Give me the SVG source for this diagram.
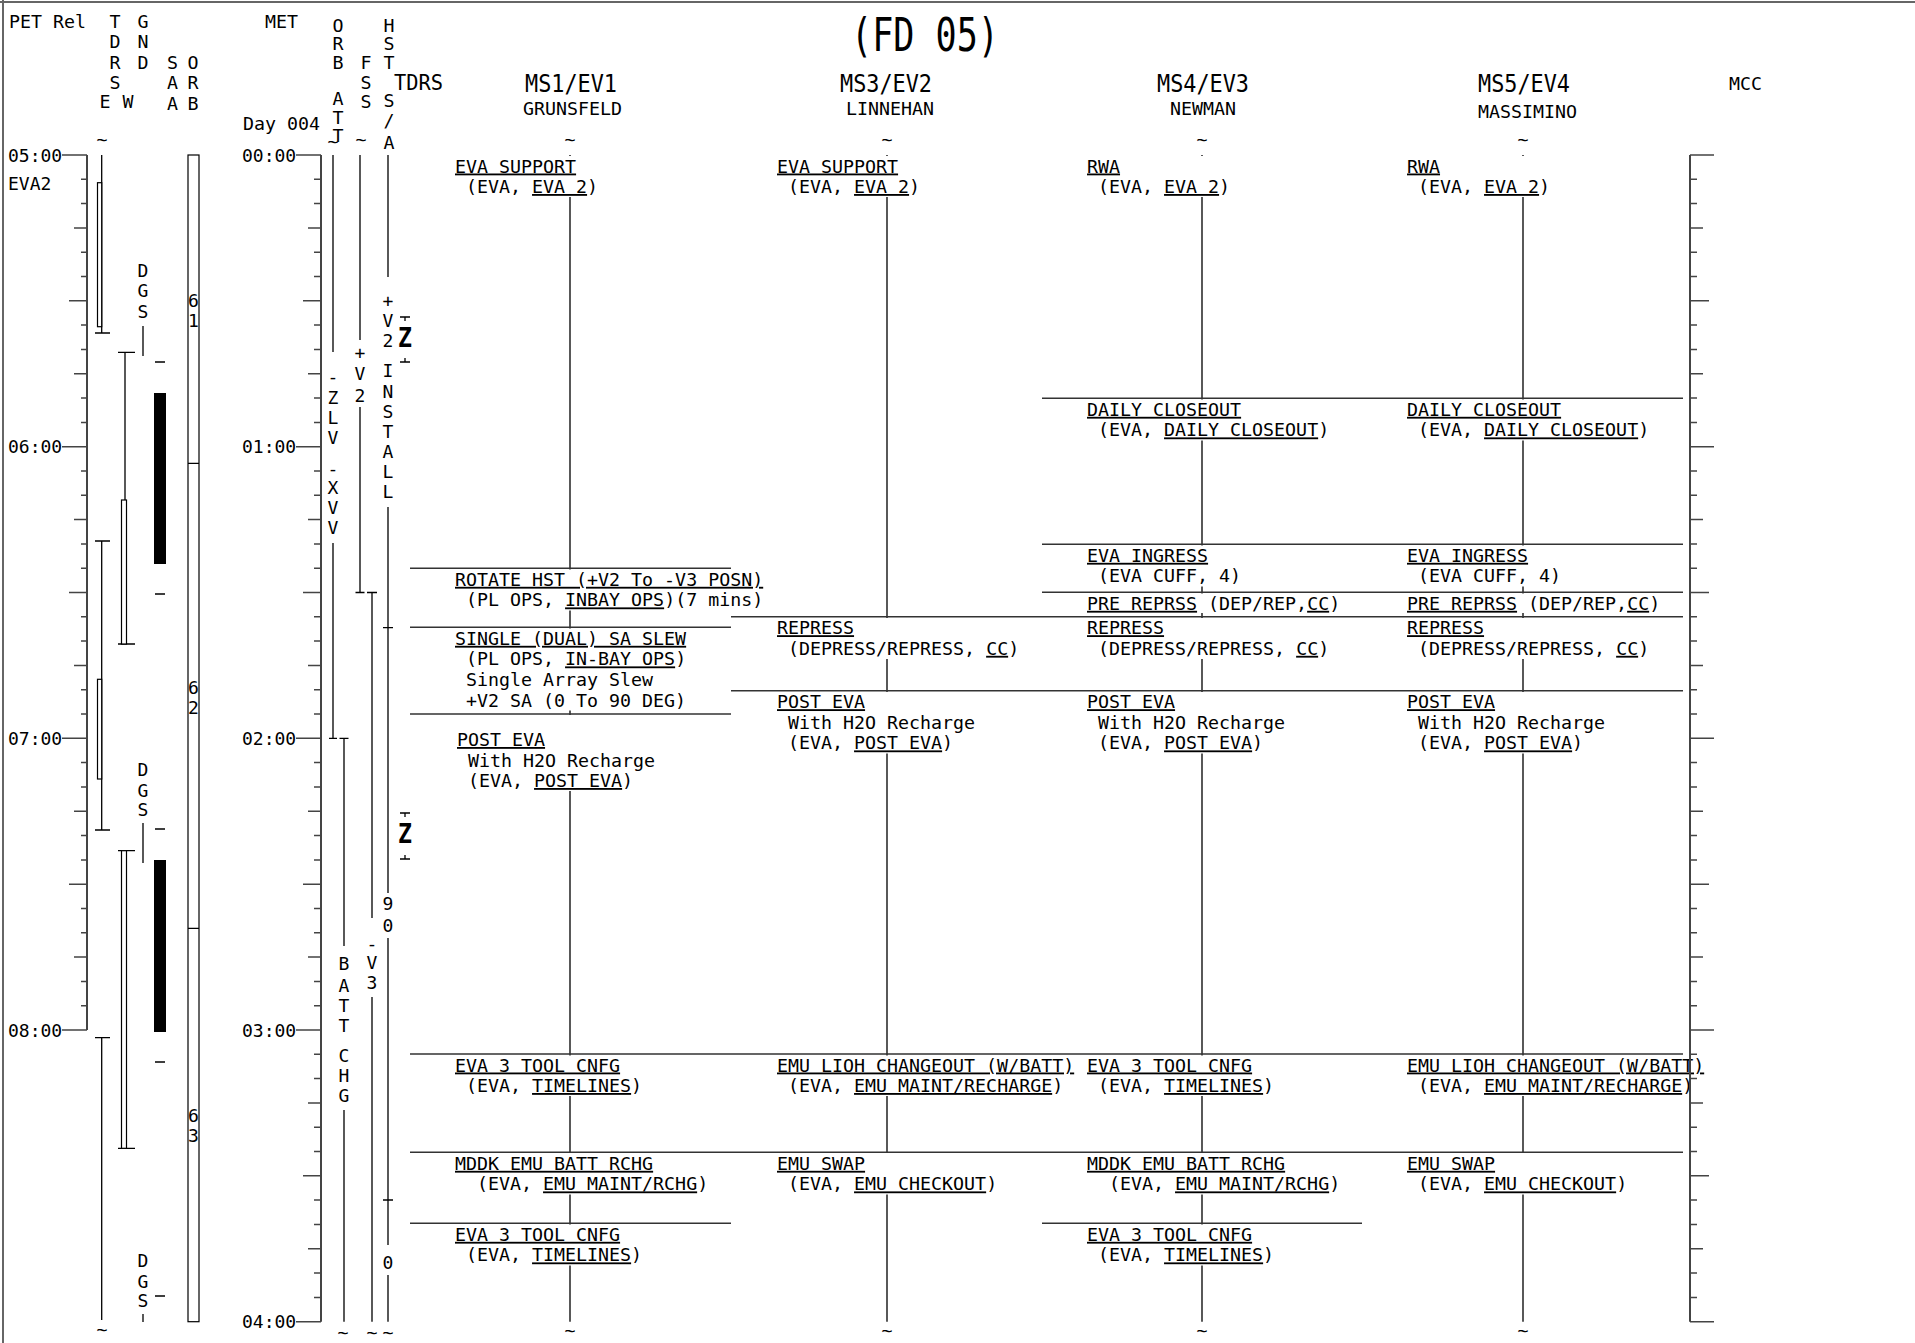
<svg xmlns="http://www.w3.org/2000/svg" width="1915" height="1343" viewBox="0 0 1915 1343">
<style>
.t{font-family:"DejaVu Sans Mono","Liberation Mono",monospace;font-size:18.3px;fill:#000}
.s{font-size:18px}
.c{text-anchor:middle}
.u{text-decoration:underline}
.ttl{font-size:46px}
.hd{font-size:24px}
.td{font-size:22px}
.ax{stroke:#444;stroke-width:2;fill:none}
.tk{stroke:#444;stroke-width:1.5;fill:none}
.ln{stroke:#000;stroke-width:1.3;fill:none}
.sep{stroke:#333;stroke-width:1.5;fill:none}
.bg{fill:#fff}
.box{fill:#fff;stroke:#000;stroke-width:1.2}
.zb{font-family:"DejaVu Sans Mono","Liberation Mono",monospace;font-weight:bold;font-size:27px}
</style>
<rect width="1915" height="1343" fill="#fff"/>
<g id="border"><path d="M3 0V1343M0 2H1915" stroke="#666" stroke-width="2" fill="none"/></g>

<g id="header">
<text class="t ttl" x="851" y="51" textLength="148" lengthAdjust="spacingAndGlyphs">(FD 05)</text>
<text class="t" x="9" y="27.5">PET Rel</text>
<text class="t" x="265" y="27.5">MET</text>
<text class="t" x="243" y="129.6">Day 004</text>
<text class="t c"><tspan x="115" y="27.5">T</tspan><tspan x="115" y="48">D</tspan><tspan x="115" y="68.5">R</tspan><tspan x="115" y="89">S</tspan><tspan x="105" y="108.3">E</tspan><tspan x="128" y="108.3">W</tspan></text>
<text class="t c"><tspan x="143" y="27.5">G</tspan><tspan x="143" y="48">N</tspan><tspan x="143" y="68.5">D</tspan></text>
<text class="t c"><tspan x="172.5" y="68.5">S</tspan><tspan x="172.5" y="89">A</tspan><tspan x="172.5" y="109.5">A</tspan></text>
<text class="t c"><tspan x="193" y="68.5">O</tspan><tspan x="193" y="89">R</tspan><tspan x="193" y="109.5">B</tspan></text>
<text class="t c"><tspan x="338" y="31.5">O</tspan><tspan x="338" y="50">R</tspan><tspan x="338" y="68.5">B</tspan><tspan x="338" y="105">A</tspan><tspan x="338" y="123.5">T</tspan><tspan x="338" y="141.5">T</tspan></text>
<text class="t c"><tspan x="366" y="68.5">F</tspan><tspan x="366" y="89">S</tspan><tspan x="366" y="108.3">S</tspan></text>
<text class="t c"><tspan x="389" y="31.5">H</tspan><tspan x="389" y="50">S</tspan><tspan x="389" y="68.5">T</tspan><tspan x="389" y="107">S</tspan><tspan x="389" y="127">/</tspan><tspan x="389" y="149">A</tspan></text>
<text class="t td" x="394" y="90" textLength="49" lengthAdjust="spacingAndGlyphs">TDRS</text>
<text class="t hd" x="525" y="92" textLength="92" lengthAdjust="spacingAndGlyphs">MS1/EV1</text>
<text class="t" x="523" y="115.3">GRUNSFELD</text>
<text class="t hd" x="840" y="92" textLength="92" lengthAdjust="spacingAndGlyphs">MS3/EV2</text>
<text class="t" x="846" y="115.3">LINNEHAN</text>
<text class="t hd" x="1157" y="92" textLength="92" lengthAdjust="spacingAndGlyphs">MS4/EV3</text>
<text class="t" x="1170" y="115.3">NEWMAN</text>
<text class="t hd" x="1478" y="92" textLength="92" lengthAdjust="spacingAndGlyphs">MS5/EV4</text>
<text class="t" x="1478" y="117.6">MASSIMINO</text>
<text class="t" x="1729" y="89.6">MCC</text>
<text class="t c"><tspan x="102" y="146">~</tspan><tspan x="333" y="148">~</tspan><tspan x="361" y="146">~</tspan><tspan x="570" y="146">~</tspan><tspan x="887" y="146">~</tspan><tspan x="1202" y="146">~</tspan><tspan x="1523" y="146">~</tspan></text>
<text class="t c"><tspan x="102" y="1336">~</tspan><tspan x="343" y="1339">~</tspan><tspan x="372" y="1339">~</tspan><tspan x="388" y="1339">~</tspan><tspan x="570" y="1337">~</tspan><tspan x="887" y="1337">~</tspan><tspan x="1202" y="1337">~</tspan><tspan x="1523" y="1337">~</tspan></text>
</g>

<g id="pet-axis">
<path class="ax" d="M87 155V1030"/>
<path class="tk" d="M62 155H87M81 179.3H87M81 203.6H87M74 227.9H87M81 252.2H87M81 276.5H87M69 300.8H87M81 325.1H87M81 349.4H87M74 373.8H87M81 398.1H87M81 422.4H87M62 446.7H87M81 471H87M81 495.3H87M74 519.6H87M81 543.9H87M81 568.2H87M69 592.5H87M81 616.8H87M81 641.1H87M74 665.4H87M81 689.7H87M81 714H87M62 738.3H87M81 762.6H87M81 786.9H87M74 811.3H87M81 835.6H87M81 859.9H87M69 884.2H87M81 908.5H87M81 932.8H87M74 957.1H87M81 981.4H87M81 1005.7H87M62 1030H87"/>
<text class="t s" x="8" y="161.5">05:00</text>
<text class="t s" x="8" y="453.2">06:00</text>
<text class="t s" x="8" y="744.8">07:00</text>
<text class="t s" x="8" y="1036.5">08:00</text>
<text class="t s" x="8" y="190">EVA2</text>
</g>

<g id="met-axis">
<path class="ax" d="M321 155V1321.7"/>
<path class="tk" d="M296 155H321M314 179.3H321M314 203.6H321M308 227.9H321M314 252.2H321M314 276.5H321M303 300.8H321M314 325.1H321M314 349.4H321M308 373.8H321M314 398.1H321M314 422.4H321M296 446.7H321M314 471H321M314 495.3H321M308 519.6H321M314 543.9H321M314 568.2H321M303 592.5H321M314 616.8H321M314 641.1H321M308 665.4H321M314 689.7H321M314 714H321M296 738.3H321M314 762.6H321M314 786.9H321M308 811.3H321M314 835.6H321M314 859.9H321M303 884.2H321M314 908.5H321M314 932.8H321M308 957.1H321M314 981.4H321M314 1005.7H321M296 1030H321M314 1054.3H321M314 1078.6H321M308 1102.9H321M314 1127.2H321M314 1151.5H321M303 1175.8H321M314 1200.1H321M314 1224.4H321M308 1248.8H321M314 1273.1H321M314 1297.4H321M296 1321.7H321"/>
<text class="t s" x="242" y="161.5">00:00</text>
<text class="t s" x="242" y="453.2">01:00</text>
<text class="t s" x="242" y="744.8">02:00</text>
<text class="t s" x="242" y="1036.5">03:00</text>
<text class="t s" x="242" y="1328.2">04:00</text>
</g>

<g id="tdrs-e">
<path class="ln" d="M101.7 155V333M95 333H110M95 541H110M101.7 541V830M95 830H110M95 1037.7H110M101.7 1037.7V1320"/>
<rect class="box" x="97.5" y="182.7" width="4.2" height="144"/>
<rect class="box" x="97.5" y="679.3" width="4.2" height="99.7"/>
</g>
<g id="gnd-w">
<path class="ln" d="M118 352.3H135M125 352.3V500M118 644H135M118 850.7H135M118 1148.3H135"/>
<rect class="box" x="121.5" y="500" width="5" height="144"/>
<rect class="box" x="121.5" y="850.7" width="5" height="297.6"/>
</g>
<g id="dgs">
<text class="t c s"><tspan x="143" y="276.6">D</tspan><tspan x="143" y="297.3">G</tspan><tspan x="143" y="318.3">S</tspan></text>
<text class="t c s"><tspan x="143" y="775.6">D</tspan><tspan x="143" y="796.6">G</tspan><tspan x="143" y="815.6">S</tspan></text>
<text class="t c s"><tspan x="143" y="1266.6">D</tspan><tspan x="143" y="1287.6">G</tspan><tspan x="143" y="1306.6">S</tspan></text>
<path class="ln" d="M143 326V356M155 362H165M155 594H165M143 823V863M155 829H165M155 1062H165M155 1296H165M143 1314V1322"/>
<rect x="154" y="393" width="12" height="171" fill="#000"/>
<rect x="154" y="860" width="12" height="172" fill="#000"/>
</g>
<g id="saa-orb">
<rect class="box" x="188" y="155" width="11" height="1166.7"/>
<path class="ln" d="M188 463.3H199M188 928.3H199"/>
<text class="t c s"><tspan x="193.5" y="307">6</tspan><tspan x="193.5" y="327">1</tspan><tspan x="193.5" y="693.5">6</tspan><tspan x="193.5" y="713.5">2</tspan><tspan x="193.5" y="1122">6</tspan><tspan x="193.5" y="1142">3</tspan></text>
</g>
<g id="orb-att">
<path class="ln" d="M333 155V352M333 543V738.3M329 738.3H337M339.5 738.3H348.5M344 738.3V946M344 1110V1321.7"/>
<text class="t c s"><tspan x="333" y="382.6">-</tspan><tspan x="333" y="403.6">Z</tspan><tspan x="333" y="423.6">L</tspan><tspan x="333" y="443.6">V</tspan><tspan x="333" y="474.6">-</tspan><tspan x="333" y="493.6">X</tspan><tspan x="333" y="513.6">V</tspan><tspan x="333" y="533.6">V</tspan></text>
<text class="t c s"><tspan x="344" y="969.6">B</tspan><tspan x="344" y="992.3">A</tspan><tspan x="344" y="1012.3">T</tspan><tspan x="344" y="1031.6">T</tspan><tspan x="344" y="1061.6">C</tspan><tspan x="344" y="1081.6">H</tspan><tspan x="344" y="1101.6">G</tspan></text>
</g>
<g id="fss">
<path class="ln" d="M360 155V340M360 407V592.5M355.5 592.5H364.5M367 592.5H377M372 592.5V918M372 997V1321.7"/>
<text class="t c s"><tspan x="360" y="358.6">+</tspan><tspan x="360" y="379.6">V</tspan><tspan x="360" y="401.6">2</tspan><tspan x="372" y="949.6">-</tspan><tspan x="372" y="968.6">V</tspan><tspan x="372" y="988.6">3</tspan></text>
</g>
<g id="hst-sa">
<path class="ln" stroke-width="1.6" d="M388 155V277M388 507V893M383 627.7H393M388 938V1245M383 1200H393M388 1275V1321.7"/>
<text class="t c s"><tspan x="388" y="306.6">+</tspan><tspan x="388" y="326.6">V</tspan><tspan x="388" y="346.6">2</tspan><tspan x="388" y="376.6">I</tspan><tspan x="388" y="397.6">N</tspan><tspan x="388" y="417.6">S</tspan><tspan x="388" y="437.6">T</tspan><tspan x="388" y="457.6">A</tspan><tspan x="388" y="477.6">L</tspan><tspan x="388" y="497.6">L</tspan><tspan x="388" y="909.6">9</tspan><tspan x="388" y="931.6">0</tspan><tspan x="388" y="1268.6">0</tspan></text>
</g>
<g id="tdrs">
<path class="ln" d="M400 317H410M405 317V321M405 358V362M400 362H410M400 813H410M405 813V817M405 855V859M400 859H410"/>
<text class="zb" x="398" y="347" textLength="14" lengthAdjust="spacingAndGlyphs">Z</text>
<text class="zb" x="398" y="843" textLength="14" lengthAdjust="spacingAndGlyphs">Z</text>
</g>

<g id="connectors">
<path class="ln" d="M570 155V1321.7M887 155V1321.7M1202 155V1321.7M1523 155V1321.7"/>
<path class="sep" d="M410 568.3H731M410 627.3H731M410 714H731M1042 398.3H1683M1042 544.3H1683M1042 592.3H1683M731 616.7H1683M731 690.7H1683M410 1054H1683M410 1152.3H1683M410 1223.3H731M1042 1223.3H1362"/>
</g>

<g id="ms1-eva-support"><rect class="bg" x="565" y="156" width="10" height="41"/><text class="t u" x="455" y="172.5">EVA SUPPORT</text><text class="t" x="466" y="193">(EVA, <tspan class="u">EVA 2</tspan>)</text></g>
<g id="ms1-rotate-hst"><rect class="bg" x="565" y="569.5" width="10" height="41"/><text class="t u" x="455" y="585.8">ROTATE HST (+V2 To -V3 POSN)</text><text class="t" x="466" y="606.4">(PL OPS, <tspan class="u">INBAY OPS</tspan>)(7 mins)</text></g>
<g id="ms1-sa-slew"><rect class="bg" x="565" y="628.5" width="10" height="82"/><text class="t u" x="455" y="644.8">SINGLE (DUAL) SA SLEW</text><text class="t" x="466" y="665.4">(PL OPS, <tspan class="u">IN-BAY OPS</tspan>)</text><text class="t" x="466" y="686">Single Array Slew</text><text class="t" x="466" y="706.6">+V2 SA (0 To 90 DEG)</text></g>
<g id="ms1-post-eva"><rect class="bg" x="565" y="715" width="10" height="76"/><text class="t u" x="457" y="746">POST EVA</text><text class="t" x="468" y="766.5">With H2O Recharge</text><text class="t" x="468" y="787">(EVA, <tspan class="u">POST EVA</tspan>)</text></g>
<g id="ms1-eva3-tool"><rect class="bg" x="565" y="1055.5" width="10" height="40.5"/><text class="t u" x="455" y="1071.5">EVA 3 TOOL CNFG</text><text class="t" x="466" y="1092">(EVA, <tspan class="u">TIMELINES</tspan>)</text></g>
<g id="ms1-mddk"><rect class="bg" x="565" y="1153" width="10" height="41.5"/><text class="t u" x="455" y="1169.8">MDDK EMU BATT RCHG</text><text class="t" x="477" y="1190.4">(EVA, <tspan class="u">EMU MAINT/RCHG</tspan>)</text></g>
<g id="ms1-eva3-tool-2"><rect class="bg" x="565" y="1224.5" width="10" height="41"/><text class="t u" x="455" y="1240.8">EVA 3 TOOL CNFG</text><text class="t" x="466" y="1261.4">(EVA, <tspan class="u">TIMELINES</tspan>)</text></g>

<g id="ms3-eva-support"><rect class="bg" x="882" y="156" width="10" height="41"/><text class="t u" x="777" y="172.5">EVA SUPPORT</text><text class="t" x="788" y="193">(EVA, <tspan class="u">EVA 2</tspan>)</text></g>
<g id="ms3-repress"><rect class="bg" x="882" y="618" width="10" height="41"/><text class="t u" x="777" y="634.2">REPRESS</text><text class="t" x="788" y="654.8">(DEPRESS/REPRESS, <tspan class="u">CC</tspan>)</text></g>
<g id="ms3-post-eva"><rect class="bg" x="882" y="692" width="10" height="61.5"/><text class="t u" x="777" y="708.2">POST EVA</text><text class="t" x="788" y="728.8">With H2O Recharge</text><text class="t" x="788" y="749.4">(EVA, <tspan class="u">POST EVA</tspan>)</text></g>
<g id="ms3-emu-lioh"><rect class="bg" x="882" y="1055.5" width="10" height="40.5"/><text class="t u" x="777" y="1071.5">EMU LIOH CHANGEOUT (W/BATT)</text><text class="t" x="788" y="1092">(EVA, <tspan class="u">EMU MAINT/RECHARGE</tspan>)</text></g>
<g id="ms3-emu-swap"><rect class="bg" x="882" y="1153" width="10" height="41.5"/><text class="t u" x="777" y="1169.8">EMU SWAP</text><text class="t" x="788" y="1190.4">(EVA, <tspan class="u">EMU CHECKOUT</tspan>)</text></g>

<g id="ms4-rwa"><rect class="bg" x="1197" y="156" width="10" height="41"/><text class="t u" x="1087" y="172.5">RWA</text><text class="t" x="1098" y="193">(EVA, <tspan class="u">EVA 2</tspan>)</text></g>
<g id="ms4-daily-closeout"><rect class="bg" x="1197" y="399.5" width="10" height="41"/><text class="t u" x="1087" y="415.8">DAILY CLOSEOUT</text><text class="t" x="1098" y="436.4">(EVA, <tspan class="u">DAILY CLOSEOUT</tspan>)</text></g>
<g id="ms4-eva-ingress"><rect class="bg" x="1197" y="545.5" width="10" height="41"/><text class="t u" x="1087" y="561.8">EVA INGRESS</text><text class="t" x="1098" y="582.4">(EVA CUFF, 4)</text></g>
<g id="ms4-pre-reprss"><rect class="bg" x="1197" y="593.5" width="10" height="19.5"/><text class="t" x="1087" y="609.8"><tspan class="u">PRE REPRSS</tspan> (DEP/REP,<tspan class="u">CC</tspan>)</text></g>
<g id="ms4-repress"><rect class="bg" x="1197" y="618" width="10" height="41"/><text class="t u" x="1087" y="634.2">REPRESS</text><text class="t" x="1098" y="654.8">(DEPRESS/REPRESS, <tspan class="u">CC</tspan>)</text></g>
<g id="ms4-post-eva"><rect class="bg" x="1197" y="692" width="10" height="61.5"/><text class="t u" x="1087" y="708.2">POST EVA</text><text class="t" x="1098" y="728.8">With H2O Recharge</text><text class="t" x="1098" y="749.4">(EVA, <tspan class="u">POST EVA</tspan>)</text></g>
<g id="ms4-eva3-tool"><rect class="bg" x="1197" y="1055.5" width="10" height="40.5"/><text class="t u" x="1087" y="1071.5">EVA 3 TOOL CNFG</text><text class="t" x="1098" y="1092">(EVA, <tspan class="u">TIMELINES</tspan>)</text></g>
<g id="ms4-mddk"><rect class="bg" x="1197" y="1153" width="10" height="41.5"/><text class="t u" x="1087" y="1169.8">MDDK EMU BATT RCHG</text><text class="t" x="1109" y="1190.4">(EVA, <tspan class="u">EMU MAINT/RCHG</tspan>)</text></g>
<g id="ms4-eva3-tool-2"><rect class="bg" x="1197" y="1224.5" width="10" height="41"/><text class="t u" x="1087" y="1240.8">EVA 3 TOOL CNFG</text><text class="t" x="1098" y="1261.4">(EVA, <tspan class="u">TIMELINES</tspan>)</text></g>

<g id="ms5-rwa"><rect class="bg" x="1518" y="156" width="10" height="41"/><text class="t u" x="1407" y="172.5">RWA</text><text class="t" x="1418" y="193">(EVA, <tspan class="u">EVA 2</tspan>)</text></g>
<g id="ms5-daily-closeout"><rect class="bg" x="1518" y="399.5" width="10" height="41"/><text class="t u" x="1407" y="415.8">DAILY CLOSEOUT</text><text class="t" x="1418" y="436.4">(EVA, <tspan class="u">DAILY CLOSEOUT</tspan>)</text></g>
<g id="ms5-eva-ingress"><rect class="bg" x="1518" y="545.5" width="10" height="41"/><text class="t u" x="1407" y="561.8">EVA INGRESS</text><text class="t" x="1418" y="582.4">(EVA CUFF, 4)</text></g>
<g id="ms5-pre-reprss"><rect class="bg" x="1518" y="593.5" width="10" height="19.5"/><text class="t" x="1407" y="609.8"><tspan class="u">PRE REPRSS</tspan> (DEP/REP,<tspan class="u">CC</tspan>)</text></g>
<g id="ms5-repress"><rect class="bg" x="1518" y="618" width="10" height="41"/><text class="t u" x="1407" y="634.2">REPRESS</text><text class="t" x="1418" y="654.8">(DEPRESS/REPRESS, <tspan class="u">CC</tspan>)</text></g>
<g id="ms5-post-eva"><rect class="bg" x="1518" y="692" width="10" height="61.5"/><text class="t u" x="1407" y="708.2">POST EVA</text><text class="t" x="1418" y="728.8">With H2O Recharge</text><text class="t" x="1418" y="749.4">(EVA, <tspan class="u">POST EVA</tspan>)</text></g>
<g id="ms5-emu-lioh"><rect class="bg" x="1518" y="1055.5" width="10" height="40.5"/><text class="t u" x="1407" y="1071.5">EMU LIOH CHANGEOUT (W/BATT)</text><text class="t" x="1418" y="1092">(EVA, <tspan class="u">EMU MAINT/RECHARGE</tspan>)</text></g>
<g id="ms5-emu-swap"><rect class="bg" x="1518" y="1153" width="10" height="41.5"/><text class="t u" x="1407" y="1169.8">EMU SWAP</text><text class="t" x="1418" y="1190.4">(EVA, <tspan class="u">EMU CHECKOUT</tspan>)</text></g>

<g id="mcc-axis">
<path class="ax" d="M1690 155V1321.7"/>
<path class="tk" d="M1690 155H1714M1690 179.3H1697M1690 203.6H1697M1690 227.9H1703M1690 252.2H1697M1690 276.5H1697M1690 300.8H1709M1690 325.1H1697M1690 349.4H1697M1690 373.8H1703M1690 398.1H1697M1690 422.4H1697M1690 446.7H1714M1690 471H1697M1690 495.3H1697M1690 519.6H1703M1690 543.9H1697M1690 568.2H1697M1690 592.5H1709M1690 616.8H1697M1690 641.1H1697M1690 665.4H1703M1690 689.7H1697M1690 714H1697M1690 738.3H1714M1690 762.6H1697M1690 786.9H1697M1690 811.3H1703M1690 835.6H1697M1690 859.9H1697M1690 884.2H1709M1690 908.5H1697M1690 932.8H1697M1690 957.1H1703M1690 981.4H1697M1690 1005.7H1697M1690 1030H1714M1690 1054.3H1697M1690 1078.6H1697M1690 1102.9H1703M1690 1127.2H1697M1690 1151.5H1697M1690 1175.8H1709M1690 1200.1H1697M1690 1224.4H1697M1690 1248.8H1703M1690 1273.1H1697M1690 1297.4H1697M1690 1321.7H1714"/>
</g>
</svg>
